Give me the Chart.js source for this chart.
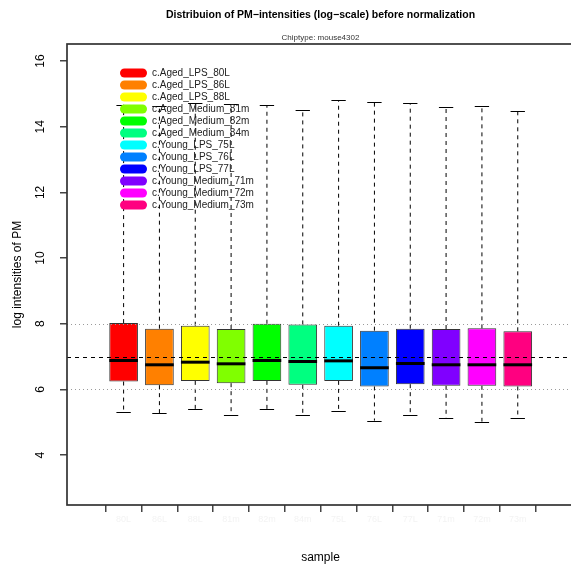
<!DOCTYPE html>
<html>
<head>
<meta charset="utf-8">
<script src="https://cdn.jsdelivr.net/npm/chart.js@4/dist/chart.umd.min.js"></script>
<style>
  html, body { margin: 0; padding: 0; background: #fff; overflow: hidden; width: 571px; height: 566px; }
  #wrap { position: absolute; left: 0; top: 0; width: 580px; height: 566px; }
</style>
</head>
<body>
<div id="wrap"><canvas id="c" width="580" height="566"></canvas></div>
<script>
// ---- data ----
const samples = ['c.Aged_LPS_80L', 'c.Aged_LPS_86L', 'c.Aged_LPS_88L', 'c.Aged_Medium_81m', 'c.Aged_Medium_82m', 'c.Aged_Medium_84m',
                 'c.Young_LPS_75L', 'c.Young_LPS_76L', 'c.Young_LPS_77L', 'c.Young_Medium_71m', 'c.Young_Medium_72m', 'c.Young_Medium_73m'];
const xTickLabels = ['80L', '86L', '88L', '81m', '82m', '84m', '75L', '76L', '77L', '71m', '72m', '73m'];
const sampleColors = ['#FF0000', '#FF8000', '#FFFF00', '#80FF00', '#00FF00', '#00FF80',
                      '#00FFFF', '#0080FF', '#0000FF', '#8000FF', '#FF00FF', '#FF0080'];
const lowerWhisker = [5.32, 5.28, 5.40, 5.23, 5.40, 5.21, 5.33, 5.05, 5.21, 5.13, 5.02, 5.13];
const q1Values     = [6.24, 6.13, 6.26, 6.19, 6.26, 6.14, 6.26, 6.09, 6.16, 6.11, 6.11, 6.09];
const medianValues = [6.88, 6.75, 6.83, 6.78, 6.88, 6.85, 6.87, 6.66, 6.79, 6.75, 6.75, 6.75];
const q3Values     = [8.02, 7.85, 7.94, 7.84, 8.00, 7.98, 7.94, 7.79, 7.85, 7.84, 7.86, 7.77];
const upperWhisker = [14.67, 14.64, 14.72, 14.68, 14.65, 14.51, 14.80, 14.74, 14.72, 14.61, 14.63, 14.49];
const yTickValues = [4, 6, 8, 10, 12, 14, 16];
const dottedRefLines = [6, 8];
const dashedRefLine = 7;
const titleText = 'Distribuion of PM\u2212intensities (log\u2212scale) before normalization';
const subtitleText = 'Chiptype: mouse4302';
const yTitle = 'log intensities of PM';
const xTitle = 'sample';

const FONT = '"Liberation Sans", Arial, Helvetica, sans-serif';

const boxPlugin = {
  id: 'boxExtras',
  beforeDatasetsDraw(chart) {
    const {ctx, chartArea: a, scales: {x, y}} = chart;
    const meta = chart.getDatasetMeta(0);
    ctx.save();
    ctx.beginPath(); ctx.rect(a.left, a.top, a.right - a.left, a.bottom - a.top); ctx.clip();
    ctx.strokeStyle = '#000';
    ctx.lineWidth = 1;
    samples.forEach((s, i) => {
      const cx = x.getPixelForValue(i + 1);
      const bw = meta.data[i].width;
      const half = bw / 4;
      // whiskers (dashed)
      ctx.setLineDash([4, 4]);
      ctx.beginPath();
      ctx.moveTo(cx, y.getPixelForValue(q3Values[i]));
      ctx.lineTo(cx, y.getPixelForValue(upperWhisker[i]));
      ctx.moveTo(cx, y.getPixelForValue(q1Values[i]));
      ctx.lineTo(cx, y.getPixelForValue(lowerWhisker[i]));
      ctx.stroke();
      // staples
      ctx.setLineDash([]);
      ctx.beginPath();
      const yu = Math.round(y.getPixelForValue(upperWhisker[i])) + 0.5;
      const yl = Math.round(y.getPixelForValue(lowerWhisker[i])) + 0.5;
      ctx.moveTo(cx - half, yu); ctx.lineTo(cx + half, yu);
      ctx.moveTo(cx - half, yl); ctx.lineTo(cx + half, yl);
      ctx.stroke();
    });
    ctx.restore();
  },
  afterDatasetsDraw(chart) {
    const {ctx, chartArea: a, scales: {x, y}} = chart;
    const meta = chart.getDatasetMeta(0);
    ctx.save();
    ctx.beginPath(); ctx.rect(a.left, a.top, a.right - a.left, a.bottom - a.top); ctx.clip();
    // medians
    ctx.strokeStyle = '#000';
    ctx.lineWidth = 3;
    samples.forEach((s, i) => {
      const cx = x.getPixelForValue(i + 1);
      const bw = meta.data[i].width;
      const ym = y.getPixelForValue(medianValues[i]);
      ctx.beginPath(); ctx.moveTo(cx - bw / 2, ym); ctx.lineTo(cx + bw / 2, ym); ctx.stroke();
    });
    // reference lines
    ctx.lineWidth = 1;
    ctx.strokeStyle = '#9a9a9a';
    ctx.setLineDash([1, 3]);
    dottedRefLines.forEach(v => {
      const py = Math.round(y.getPixelForValue(v)) + 0.5;
      ctx.beginPath(); ctx.moveTo(a.left, py); ctx.lineTo(a.right, py); ctx.stroke();
    });
    ctx.strokeStyle = '#000';
    ctx.setLineDash([4, 4]);
    const pd = Math.round(y.getPixelForValue(dashedRefLine)) + 0.5;
    ctx.beginPath(); ctx.moveTo(a.left, pd); ctx.lineTo(a.right, pd); ctx.stroke();
    ctx.restore();

    // frame
    ctx.save();
    ctx.strokeStyle = '#333';
    ctx.lineWidth = 1.7;
    ctx.strokeRect(a.left, a.top, a.right - a.left, a.bottom - a.top);
    ctx.restore();

    // legend
    ctx.save();
    ctx.font = '10px ' + FONT;
    ctx.textBaseline = 'middle';
    ctx.textAlign = 'left';
    samples.forEach((s, i) => {
      const ly = 73 + i * 12;
      ctx.fillStyle = sampleColors[i];
      ctx.beginPath();
      ctx.roundRect(120, ly - 4.5, 27, 9, 4.5);
      ctx.fill();
      ctx.fillStyle = '#222';
      ctx.fillText(s, 152, ly + 0.5);
    });
    ctx.restore();

    // titles
    const cxm = (a.left + a.right) / 2;
    ctx.save();
    ctx.fillStyle = '#000';
    ctx.textAlign = 'center';
    ctx.textBaseline = 'middle';
    ctx.font = 'bold 10.5px ' + FONT;
    ctx.fillText(titleText, cxm, 15);
    ctx.font = '8px ' + FONT;
    ctx.fillStyle = '#333';
    ctx.fillText(subtitleText, cxm, 37.5);
    ctx.restore();
  }
};

const boxData = samples.map((s, i) => ({x: i + 1, y: [q1Values[i], q3Values[i]]}));

new Chart(document.getElementById('c'), {
  type: 'bar',
  data: {
    datasets: [{
      data: boxData,
      backgroundColor: sampleColors,
      borderColor: '#333',
      borderWidth: 1,
      borderSkipped: false,
      barPercentage: 1,
      categoryPercentage: 0.8
    }]
  },
  options: {
    responsive: false,
    animation: false,
    layout: { padding: { top: 44, left: 0, right: 6, bottom: 0 } },
    plugins: { legend: { display: false }, tooltip: { enabled: false } },
    scales: {
      x: {
        type: 'linear',
        min: 0.01,
        max: 12.98,
        afterBuildTicks: (sc) => { sc.ticks = samples.map((s, i) => ({value: i + 1})); },
        afterFit: (sc) => { sc.height = 61; },
        grid: { drawOnChartArea: false, tickLength: 7, color: '#444', lineWidth: 1.5 },
        border: { display: false },
        ticks: {
          autoSkip: false, maxRotation: 0, minRotation: 0, padding: 2,
          color: '#f3f3f3', font: { family: FONT, size: 9 },
          callback: (v) => xTickLabels[v - 1] ?? ''
        },
        title: { display: true, text: xTitle, color: '#000', font: { family: FONT, size: 12 }, padding: { top: 0, bottom: 1 } }
      },
      y: {
        min: 2.48,
        max: 16.52,
        afterBuildTicks: (sc) => { sc.ticks = yTickValues.map(v => ({value: v})); },
        afterFit: (sc) => { sc.width = 67; },
        grid: { drawOnChartArea: false, tickLength: 7, color: '#444', lineWidth: 1.5 },
        border: { display: false },
        ticks: {
          minRotation: 90, maxRotation: 90, crossAlign: 'center', padding: 13,
          color: '#000', font: { family: FONT, size: 12 }
        },
        title: { display: true, text: yTitle, color: '#000', font: { family: FONT, size: 12 }, padding: { top: 10.8, bottom: 0 } }
      }
    }
  },
  plugins: [boxPlugin]
});
</script>
</body>
</html>
